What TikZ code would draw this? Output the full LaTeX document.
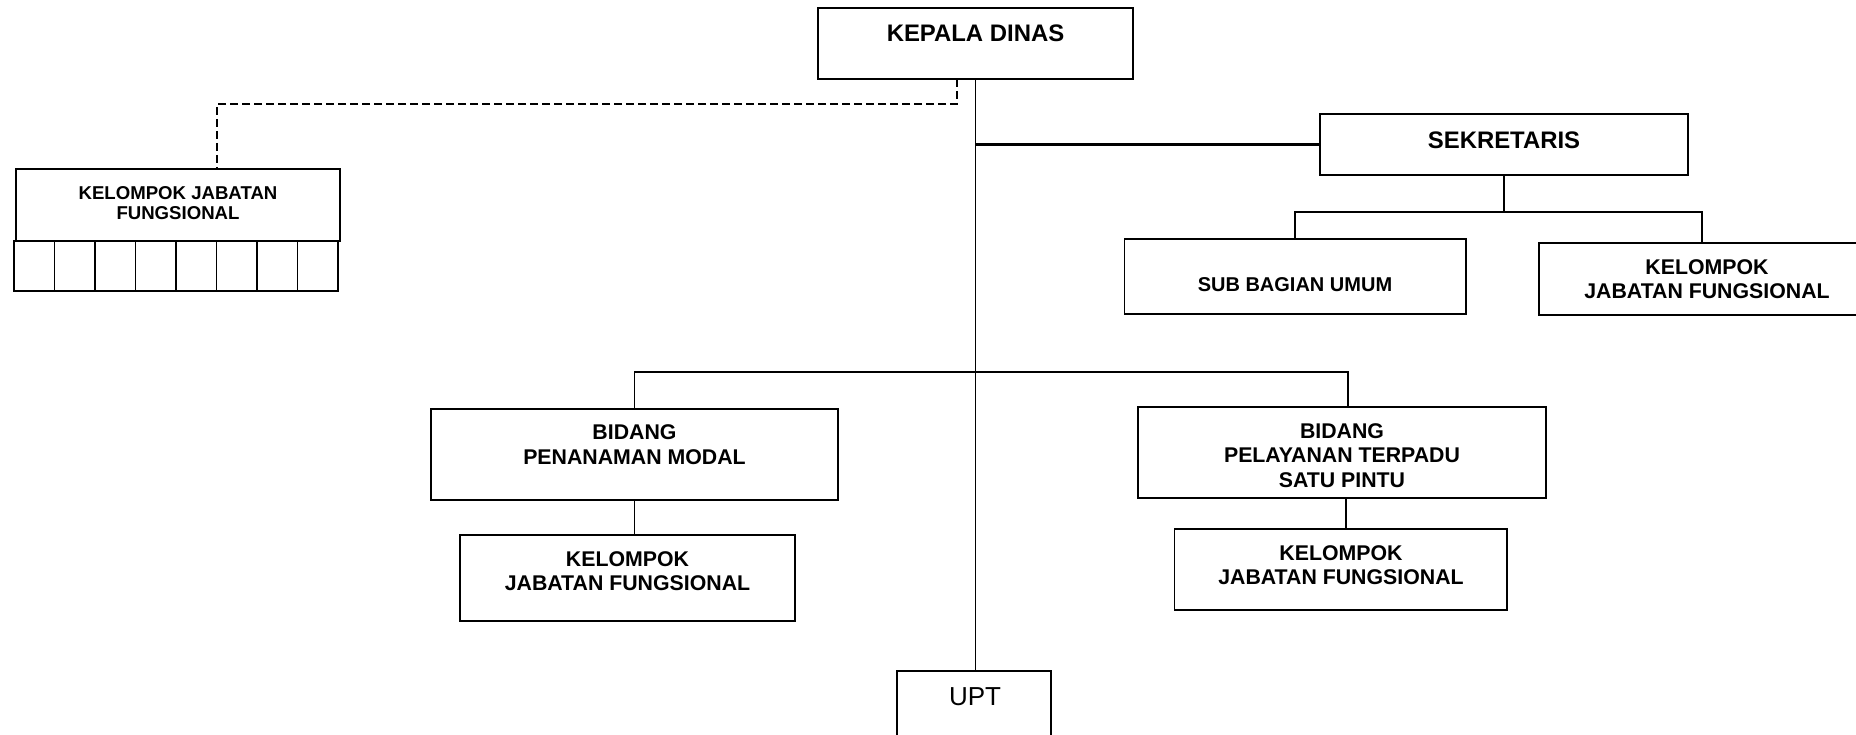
\documentclass[tikz,border=0pt]{standalone}
\usepackage{fontspec}
\setmainfont{Liberation Sans}
\begin{document}
\begin{tikzpicture}[x=1pt,y=-1pt]
\tikzset{
  box/.style={draw, line width=1.8pt, inner sep=0pt, outer sep=0pt},
  conn/.style={line width=1.6pt},
  thickconn/.style={line width=2.6pt},
  dsh/.style={line width=1.4pt, dash pattern=on 8pt off 4pt},
  lbl/.style={inner sep=0pt, align=center},
  fbig/.style={font=\fontsize{23.9}{27.5}\selectfont\bfseries},
  fmid/.style={font=\fontsize{21.3}{24.5}\selectfont\bfseries},
  fsub/.style={font=\fontsize{20}{23}\selectfont\bfseries},
  fsmall/.style={font=\fontsize{18.6}{20.5}\selectfont\bfseries},
  freg/.style={font=\fontsize{26}{30}\selectfont},
}
\clip (0,0) rectangle (1856,735);
\fill[white] (0,0) rectangle (1856,735);

% boxes
\node[box, minimum width=315, minimum height=71] (kd) at (975.5,43.5) {};
\node[lbl, fbig] (kdt) at (975.5,33) {KEPALA DINAS};

\node[box, minimum width=368, minimum height=61] (sek) at (1504,144.5) {};
\node[lbl, fbig] (sekt) at (1504,140) {SEKRETARIS};

\node[box, minimum width=341.5, minimum height=75] (sub) at (1295.25,276.5) {};
\node[lbl, fsub] (subt) at (1295,285) {SUB BAGIAN UMUM};

\node[box, minimum width=336, minimum height=72] (kjr) at (1707,279) {};
\node[lbl, fmid] (kjrt) at (1707,279) {KELOMPOK\\JABATAN FUNGSIONAL};

\node[box, minimum width=407, minimum height=91] (bpm) at (634.5,454.5) {};
\node[lbl, fmid] (bpmt) at (634.5,444.5) {BIDANG\\PENANAMAN MODAL};

\node[box, minimum width=335, minimum height=86] (kjl2) at (627.5,578) {};
\node[lbl, fmid] (kjl2t) at (627.5,571) {KELOMPOK\\JABATAN FUNGSIONAL};

\node[box, minimum width=408, minimum height=91] (bpt) at (1342,452.5) {};
\node[lbl, fmid] (bptt) at (1342,455.5) {BIDANG\\PELAYANAN TERPADU\\SATU PINTU};

\node[box, minimum width=332.5, minimum height=81] (kjr2) at (1340.75,569.5) {};
\node[lbl, fmid] (kjr2t) at (1341,565) {KELOMPOK\\JABATAN FUNGSIONAL};

\node[box, minimum width=154, minimum height=90] (upt) at (974,716) {};
\node[lbl, freg] (uptt) at (975,697) {UPT};

\node[box, minimum width=324, minimum height=72] (kj1) at (178,205) {};
\node[lbl, fsmall] (kj1t) at (178,203) {KELOMPOK JABATAN\\FUNGSIONAL};

% grid of eight cells under the left box
\foreach \i in {0,...,7} {
  \node[box, line width=1.6pt, minimum width=40.5, minimum height=50] (g\i) at ({14+20.25+40.5*\i},266) {};
}

% connectors
\coordinate (dj) at (957,104);
\coordinate (sj) at (1504,212);
\coordinate (bj) at (976,372);

\draw[conn] (kd.south) -- (kd.south |- upt.north);
\draw[thickconn] (kd.south |- sek.west) -- (sek.west);
\draw[conn] (sek.south) -- (sj);
\draw[conn] (sub.north) |- (sj) -| ([xshift=-5pt]kjr.north);
\draw[conn] (bpm.north) |- (bj) -| ([xshift=6pt]bpt.north);
\draw[conn] (bpm.south) -- (bpm.south |- kjl2.north);
\draw[conn] ([xshift=4pt]bpt.south) -- ([xshift=4pt]bpt.south |- kjr2.north);
\draw[dsh] (kd.south -| dj) -- (dj) -| ([xshift=39pt]kj1.north);
\end{tikzpicture}
\end{document}
